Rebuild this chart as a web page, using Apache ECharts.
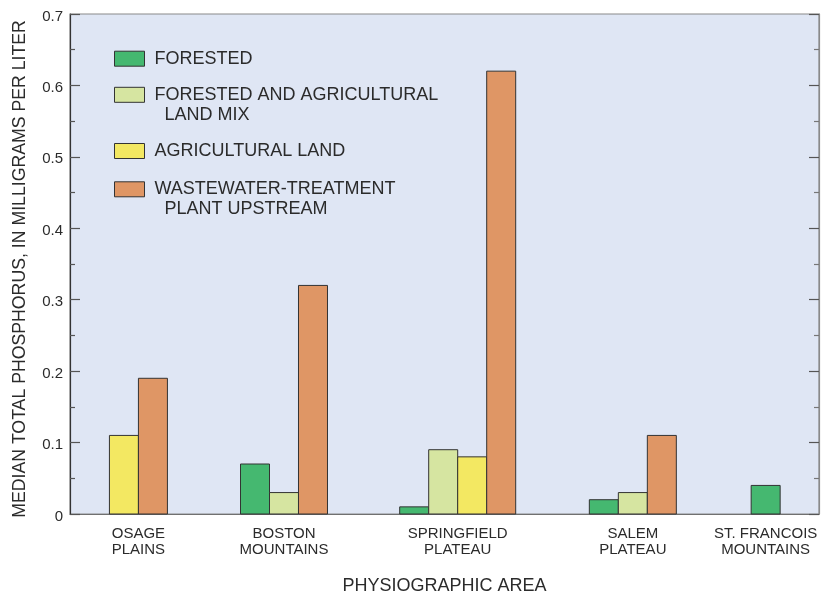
<!DOCTYPE html>
<html>
<head>
<meta charset="utf-8">
<script src="https://cdn.jsdelivr.net/npm/echarts@6/dist/echarts.min.js"></script>
<style>
  html, body { margin: 0; padding: 0; background: #ffffff; }
  #chart { width: 826px; height: 592px; }
</style>
</head>
<body>
<div id="chart"></div>
<script>
// Median total phosphorus by physiographic area and land-use class
var areas = ['OSAGE\nPLAINS', 'BOSTON\nMOUNTAINS', 'SPRINGFIELD\nPLATEAU', 'SALEM\nPLATEAU', 'ST. FRANCOIS\nMOUNTAINS'];
var forested   = [null, 0.07, 0.01, 0.02, 0.04];
var mixedLand  = [null, 0.03, 0.09, 0.03, null];
var agricultural = [0.11, null, 0.08, null, null];
var wastewater = [0.19, 0.32, 0.62, 0.11, null];
var yTicks = [0, 0.1, 0.2, 0.3, 0.4, 0.5, 0.6, 0.7];

var seriesNames = ['FORESTED', 'FORESTED AND AGRICULTURAL\n  LAND MIX', 'AGRICULTURAL LAND', 'WASTEWATER-TREATMENT\n  PLANT UPSTREAM'];
var seriesValues = [forested, mixedLand, agricultural, wastewater];
var seriesColors = ['#45b870', '#d6e5a1', '#f3e862', '#df9665'];

// Horizontal layout: x axis measured in bar widths; group centres along it
var xSpan = 25.83;
var groupCenters = [2.36, 7.38, 13.37, 19.41, 23.99];

// Bars present in each group are packed side by side around the group centre
function barPositions() {
  var pos = seriesValues.map(function () { return []; });
  areas.forEach(function (_, g) {
    var present = [];
    seriesValues.forEach(function (vals, s) { if (vals[g] != null) present.push(s); });
    present.forEach(function (s, k) {
      pos[s].push([groupCenters[g] + k - (present.length - 1) / 2, seriesValues[s][g]]);
    });
  });
  return pos;
}
var positioned = barPositions();

function renderBar(params, api) {
  var x = api.value(0), v = api.value(1);
  var p0 = api.coord([x - 0.5, v]);
  var p1 = api.coord([x + 0.5, 0]);
  return {
    type: 'rect',
    shape: { x: p0[0], y: p0[1], width: p1[0] - p0[0], height: p1[1] - p0[1] },
    style: api.style({ stroke: '#333333', lineWidth: 1 })
  };
}

var font = 'Liberation Sans, Arial, sans-serif';
var textColor = '#2b2b2b';

// One legend block per class so each entry sits where it belongs;
// two-line entries get a leading blank line so the swatch lines up with line one
var legendLine = 20;
var legendSwatchCenters = [58.7, 94.8, 151, 189.3];
var legends = seriesNames.map(function (name, i) {
  var twoLine = name.indexOf('\n') >= 0;
  var c = legendSwatchCenters[i];
  return {
    show: true,
    left: 114,
    top: twoLine ? c - 1.5 * legendLine : c - legendLine / 2,
    padding: 0,
    orient: 'vertical',
    itemWidth: 30,
    itemHeight: 15,
    icon: 'rect',
    selectedMode: false,
    data: [{ name: name }],
    formatter: function (n) { return twoLine ? '\n' + n : n; },
    itemStyle: { borderColor: '#333333', borderWidth: 1 },
    textStyle: { fontFamily: font, fontSize: 18, color: textColor, lineHeight: legendLine, padding: [0, 0, 0, 5] }
  };
});

var chart = echarts.init(document.getElementById('chart'), null, { renderer: 'canvas' });
chart.setOption({
  animation: false,
  backgroundColor: '#ffffff',
  legend: legends,
  grid: {
    left: 70, right: 7, top: 14, bottom: 78,
    outerBoundsMode: 'none',
    containLabel: false,
    show: true, backgroundColor: '#dfe6f4', borderColor: '#8a8a8a', borderWidth: 1.2
  },
  xAxis: {
    type: 'value', min: 0, max: xSpan,
    name: 'PHYSIOGRAPHIC AREA', nameLocation: 'middle', nameGap: 63,
    nameTextStyle: { fontFamily: font, fontSize: 18, color: textColor },
    axisLine: { show: true, lineStyle: { color: '#707070', width: 1.2 } },
    axisTick: { show: false },
    splitLine: { show: false },
    axisLabel: {
      customValues: groupCenters,
      fontFamily: font, fontSize: 15, color: textColor, lineHeight: 16, margin: 12,
      formatter: function (val) {
        var i = groupCenters.indexOf(val);
        return i >= 0 ? areas[i] : '';
      }
    }
  },
  yAxis: [{
    type: 'value', min: 0, max: 0.7, interval: 0.1, position: 'left',
    name: 'MEDIAN TOTAL PHOSPHORUS, IN MILLIGRAMS PER LITER',
    nameLocation: 'middle', nameGap: 41,
    nameTextStyle: { fontFamily: font, fontSize: 17.7, color: textColor, padding: [0, 10, 0, 0] },
    axisLine: { show: true, lineStyle: { color: '#333333', width: 1.2 } },
    axisTick: { show: true, inside: true, length: 10, lineStyle: { color: '#555555', width: 1.2 } },
    minorTick: { show: true, splitNumber: 2, length: 5, lineStyle: { color: '#555555', width: 1.2 } },
    splitLine: { show: false },
    axisLabel: {
      fontFamily: font, fontSize: 15, color: textColor, margin: 7,
      verticalAlign: 'top', lineHeight: 5,
      customValues: yTicks,
      formatter: function (v) { return String(Math.round(v * 10) / 10); }
    }
  }, {
    type: 'value', min: 0, max: 0.7, interval: 0.1, position: 'right',
    axisLine: { show: true, lineStyle: { color: '#8a8a8a', width: 1.2 } },
    axisTick: { show: true, inside: true, length: 10, lineStyle: { color: '#555555', width: 1.2 } },
    minorTick: { show: true, splitNumber: 2, length: 5, lineStyle: { color: '#777777', width: 1.2 } },
    splitLine: { show: false },
    axisLabel: { show: false }
  }],
  series: seriesNames.map(function (name, s) {
    return {
      name: name,
      type: 'custom',
      renderItem: renderBar,
      itemStyle: { color: seriesColors[s], borderColor: '#333333', borderWidth: 1 },
      encode: { x: 0, y: 1 },
      data: positioned[s]
    };
  })
});
</script>
</body>
</html>
